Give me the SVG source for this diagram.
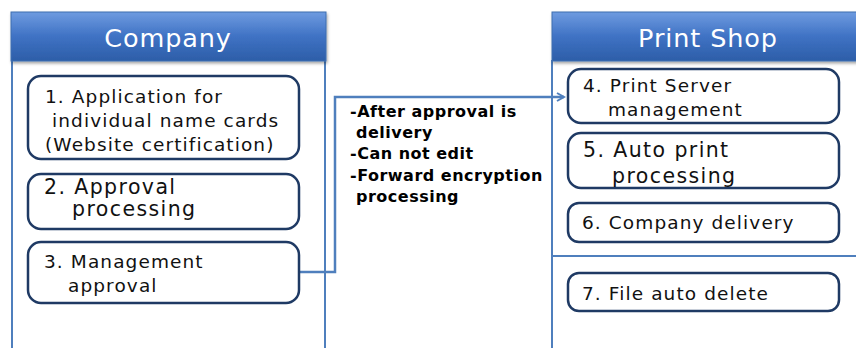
<svg xmlns="http://www.w3.org/2000/svg" width="856" height="348" viewBox="0 0 856 348">
<style>
.panel{fill:none;stroke:#4f7fbd;stroke-width:2}
.hdr{fill:url(#hg);stroke:#3f6fb0;stroke-width:1}
.htxt{font-family:"DejaVu Sans","Noto Sans",sans-serif;font-size:25.5px;letter-spacing:0.9px;fill:#ffffff;text-anchor:middle}
.node{fill:#ffffff;stroke:#1f3a64;stroke-width:2.5}
.t{font-family:"DejaVu Sans","Noto Sans",sans-serif;font-size:18.5px;letter-spacing:1.1px;fill:#111111}
.tb{font-size:20.5px;letter-spacing:1.4px}
.note{font-family:"DejaVu Sans","Noto Sans",sans-serif;font-size:16px;font-weight:bold;letter-spacing:0.5px;fill:#000000}
.conn{fill:none;stroke:#4f7fbd;stroke-width:2.5}
</style>
<defs>
<linearGradient id="hg" x1="0" y1="0" x2="0" y2="1">
<stop offset="0" stop-color="#6e9be0"/>
<stop offset="0.5" stop-color="#3f72c4"/>
<stop offset="1" stop-color="#2d5ea8"/>
</linearGradient>
<filter id="sh" x="-5%" y="-10%" width="110%" height="130%">
<feDropShadow dx="1" dy="2" stdDeviation="1.5" flood-color="#000" flood-opacity="0.35"/>
</filter>
<marker id="arr" markerWidth="10" markerHeight="10" refX="8" refY="5" orient="auto" markerUnits="userSpaceOnUse">
<path d="M1,1 L8,5 L1,9" fill="none" stroke="#4f7fbd" stroke-width="2"/>
</marker>
</defs>
<g id="company-panel">
<path class="panel" d="M12,60 L12,348 M325,60 L325,348"/>
<rect class="hdr" x="11" y="12" width="315" height="49" filter="url(#sh)"/>
<text class="htxt" x="168" y="47">Company</text>
</g>
<g id="printshop-panel">
<path class="panel" d="M552,60 L552,348 M552,256 L856,256"/>
<rect class="hdr" x="552" y="12" width="310" height="49" filter="url(#sh)"/>
<text class="htxt" x="708" y="47">Print Shop</text>
</g>
<g id="connectors">
<path class="conn" d="M300,272 L335,272 L335,97 L564,97" marker-end="url(#arr)"/>
</g>
<g id="note">
<text class="note" x="350" y="117">-After approval is</text>
<text class="note" x="356" y="138">delivery</text>
<text class="note" x="350" y="159">-Can not edit</text>
<text class="note" x="350" y="181">-Forward encryption</text>
<text class="note" x="356" y="202">processing</text>
</g>
<g id="n1">
<rect class="node" x="28" y="76" width="271" height="83" rx="13"/>
<text class="t" x="45" y="103">1. Application for</text>
<text class="t" x="52" y="127">individual  name cards</text>
<text class="t" x="45" y="151">(Website certification)</text>
</g>
<g id="n2">
<rect class="node" x="28" y="174" width="271" height="55" rx="13"/>
<text class="t tb" x="44" y="194">2. Approval</text>
<text class="t tb" x="72" y="216">processing</text>
</g>
<g id="n3">
<rect class="node" x="28" y="242" width="271" height="61" rx="13"/>
<text class="t" x="44" y="268">3. Management</text>
<text class="t" x="68" y="292">approval</text>
</g>
<g id="n4">
<rect class="node" x="568" y="69" width="271" height="54" rx="13"/>
<text class="t" x="583" y="92">4. Print Server</text>
<text class="t" x="608" y="116">management</text>
</g>
<g id="n5">
<rect class="node" x="568" y="133" width="271" height="55" rx="13"/>
<text class="t tb" x="583" y="157">5. Auto print</text>
<text class="t tb" x="612" y="183">processing</text>
</g>
<g id="n6">
<rect class="node" x="568" y="203" width="271" height="39" rx="11"/>
<text class="t" x="582" y="229">6. Company delivery</text>
</g>
<g id="n7">
<rect class="node" x="568" y="273" width="271" height="38" rx="11"/>
<text class="t" x="582" y="300">7. File auto delete</text>
</g>
</svg>
